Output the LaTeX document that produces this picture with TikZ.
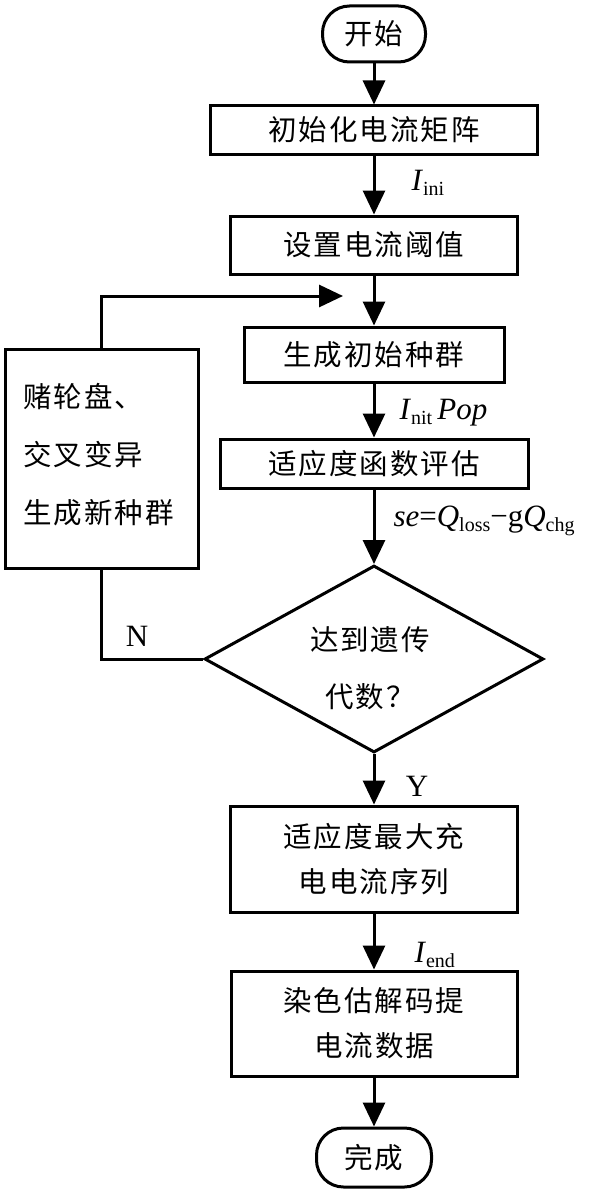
\documentclass[tikz,border=0pt]{standalone}
\usepackage{fontspec}
\setmainfont{Liberation Serif}
\newfontfamily\cjk{Noto Sans CJK SC}[LetterSpace=7]
\usetikzlibrary{arrows.meta,shapes.geometric}
\newcommand\cjkt{\cjk\fontsize{28.5}{45}\selectfont}
\newcommand\latt{\fontsize{31}{32}\selectfont}
\newcommand\lsub[1]{\raisebox{-5pt}{\fontsize{20}{20}\selectfont #1}}
\begin{document}
\begin{tikzpicture}[x=1pt,y=-1pt,
  line width=3pt,
  arr/.style={-{Triangle[width=22pt,length=24pt]}},
  box/.style={draw, rectangle, inner sep=0pt, align=center, font=\cjkt},
  term/.style={draw, rectangle, rounded corners=27pt, inner sep=0pt, font=\cjkt},
  lbl/.style={inner sep=0pt, font=\latt, anchor=west}]
\useasboundingbox (0,0) rectangle (591,1196);

\node[term, minimum width=103pt, minimum height=56pt] (start) at (374,34) {开始};
\node[box, minimum width=327pt, minimum height=48pt] (b1) at (374,130) {初始化电流矩阵};
\node[box, minimum width=287pt, minimum height=58pt] (b2) at (374,245) {设置电流阈值};
\node[box, minimum width=260pt, minimum height=55pt] (b3) at (374,354.5) {生成初始种群};
\node[box, minimum width=308pt, minimum height=49pt] (b4) at (374,463.5) {适应度函数评估};
\node[draw, diamond, minimum width=339pt, minimum height=187pt, inner sep=0pt] (dec) at (374,659) {};
\node[inner sep=0pt, align=center, font=\cjk\fontsize{28.5}{57}\selectfont] (dect) at (370,668) {达到遗传\\代数？};
\node[box, minimum width=287pt, minimum height=106pt] (b5) at (374,859) {适应度最大充\\电电流序列};
\node[box, minimum width=286pt, minimum height=105pt] (b6) at (374,1023.5) {染色估解码提\\电流数据};
\node[term, minimum width=115pt, minimum height=59pt] (end) at (374,1157.5) {完成};
\node[draw, rectangle, minimum width=193pt, minimum height=219pt, inner sep=0pt] (left) at (101.5,458.5) {};
\node[inner sep=0pt, align=left, anchor=west, font=\cjk\fontsize{28.5}{58}\selectfont] (leftt) at (22,455) {赌轮盘、\\交叉变异\\生成新种群};

\coordinate (fb) at (343,296);

\draw[arr] (start) -- (b1);
\draw[arr] (b1) -- (b2);
\draw[arr] (b2) -- (b3);
\draw[arr] (b3) -- (b4);
\draw[arr] (b4) -- (dec);
\draw[arr] (dec) -- (b5);
\draw[arr] (b5) -- (b6);
\draw[arr] (b6) -- (end);
\draw (dec.west) -| (left.south);
\draw[arr] (left.north) |- (fb);

\node[lbl] (lini) at (410,183) {\textit{I}\lsub{ini}};
\node[lbl] (lpop) at (398,413) {\textit{I}\lsub{nit}\,\textit{Pop}};
\node[lbl] (lse) at (392,521) {\textit{se}=\textit{Q}\lsub{loss}−g\textit{Q}\lsub{chg}};
\node[lbl] (lend) at (413,955) {\textit{I}\lsub{end}};
\node[inner sep=0pt, font=\latt] (ln) at (137,636) {N};
\node[inner sep=0pt, font=\latt] (ly) at (417,786) {Y};
\end{tikzpicture}
\end{document}
